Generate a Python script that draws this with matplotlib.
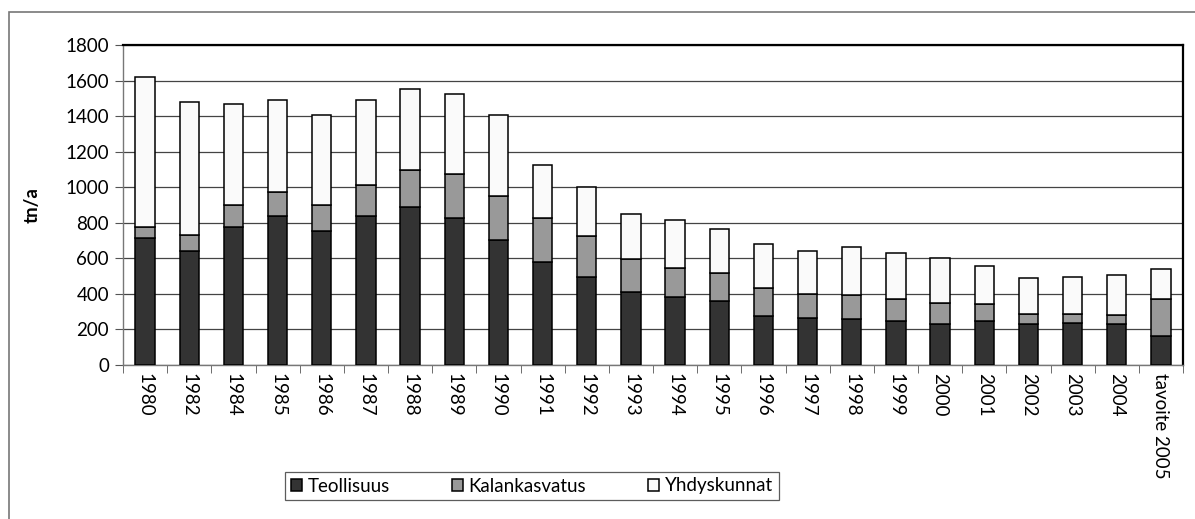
import numpy as np
import matplotlib.pyplot as plt
from matplotlib.patches import Rectangle

years = ['1980', '1982', '1984', '1985', '1986', '1987', '1988', '1989', '1990',
         '1991', '1992', '1993', '1994', '1995', '1996', '1997', '1998', '1999',
         '2000', '2001', '2002', '2003', '2004', 'tavoite 2005']

# cumulative tops
teollisuus_top = [712, 643, 778, 838, 756, 838, 891, 829, 703, 578, 497, 411, 383,
                  360, 278, 266, 257, 248, 229, 248, 229, 238, 229, 165]
kalan_top = [774, 731, 900, 971, 900, 1014, 1097, 1074, 952, 827, 724, 598, 546,
             516, 435, 401, 392, 371, 351, 341, 289, 289, 281, 373]
total_top = [1622, 1481, 1468, 1490, 1406, 1490, 1552, 1522, 1406, 1127, 1003, 849,
             816, 765, 683, 643, 662, 632, 602, 559, 488, 497, 506, 538]

teollisuus = np.array(teollisuus_top)
kalankasvatus = np.array(kalan_top) - np.array(teollisuus_top)
yhdyskunnat = np.array(total_top) - np.array(kalan_top)

plt.rcParams['font.family'] = ['Lato', 'DejaVu Sans']
fs = 13.5

fig = plt.figure(figsize=(11.95, 5.19), dpi=100)
ax = fig.add_axes([123 / 1195, 1 - 365 / 519, 1060 / 1195, 320 / 519])

x = np.arange(len(years))
w = 0.44
ax.bar(x, teollisuus, w, color='#333333', edgecolor='black', lw=1.1,
       label='Teollisuus', zorder=3)
ax.bar(x, kalankasvatus, w, bottom=teollisuus, color='#999999',
       edgecolor='black', lw=1.1, label='Kalankasvatus', zorder=3)
ax.bar(x, yhdyskunnat, w, bottom=teollisuus + kalankasvatus, color='#fafafa',
       edgecolor='black', lw=1.1, label='Yhdyskunnat', zorder=3)

ax.set_xlim(-0.5, len(years) - 0.5)
ax.set_ylim(0, 1800)
ax.set_yticks(np.arange(0, 1801, 200))
ax.yaxis.grid(True, color='#444444', lw=0.9, zorder=0)

ax.set_xticks(x)
ax.set_xticklabels(years, rotation=-90, fontsize=fs)
ax.set_xticks(np.arange(-0.5, len(years)), minor=True)
ax.tick_params(axis='x', which='major', length=0, pad=6)
ax.tick_params(axis='x', which='minor', length=6, color='#555555', direction='out')
ax.tick_params(axis='y', length=6, color='#555555', labelsize=fs, pad=4)

for s in ['left', 'bottom']:
    ax.spines[s].set_color('#777777')
    ax.spines[s].set_linewidth(1.0)
for s in ['top', 'right']:
    ax.spines[s].set_color('black')
    ax.spines[s].set_linewidth(1.6)

ax.set_ylabel('tn/a', fontsize=fs, fontweight='bold', labelpad=18)

leg = fig.legend(loc='center', bbox_to_anchor=(532 / 1195, 1 - 486 / 519), ncol=3,
                 fontsize=fs, frameon=True, fancybox=False, edgecolor='#333333',
                 handlelength=0.6, handleheight=0.6, handletextpad=0.3,
                 columnspacing=3.3, borderpad=0.3, borderaxespad=0)
leg.get_frame().set_linewidth(0.9)

# outer chart border
fig.patches.append(Rectangle((8.5 / 1195, -0.05), 1.1, 1.05 - 12 / 519,
                             transform=fig.transFigure, fill=False,
                             edgecolor='#777777', lw=1.2))

fig.savefig('out.png', dpi=100)
